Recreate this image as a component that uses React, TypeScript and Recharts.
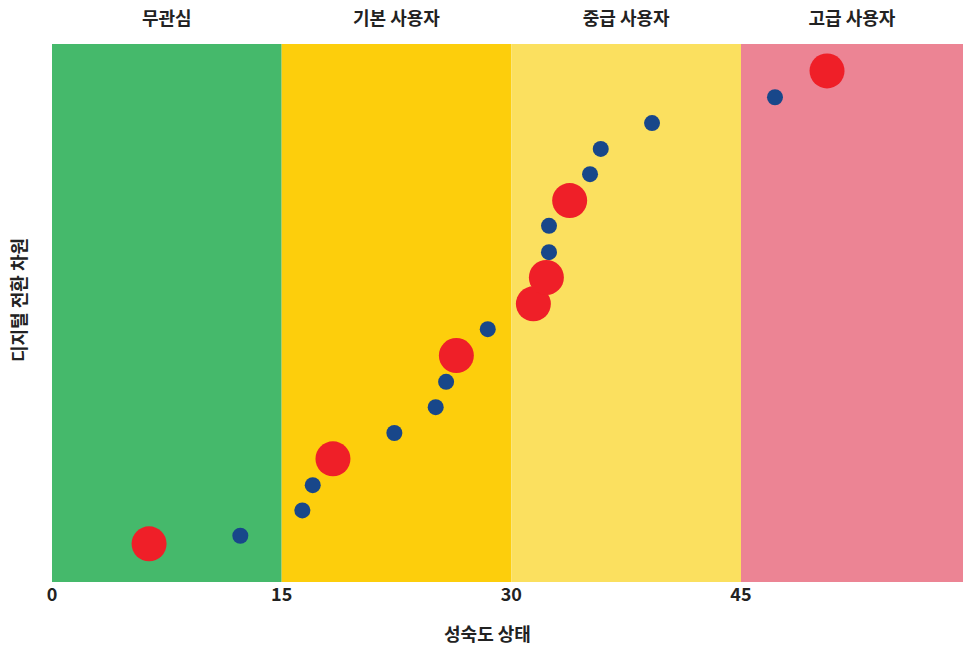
import React from "react";
import {
  ScatterChart,
  Scatter,
  XAxis,
  YAxis,
  ReferenceArea,
  Text,
} from "recharts";

// Zones along the maturity axis
const zoneNames = ["무관심", "기본 사용자", "중급 사용자", "고급 사용자"];
const zoneStarts = [0, 15, 30, 45];
const zoneEnds = [15, 30, 45, 59.5];
const zoneColors = ["#45B96B", "#FDCE0C", "#FBE05F", "#EC8494"];
const xTicks = [0, 15, 30, 45];

// Blue (small) points
const blueX = [12.3, 16.35, 17.03, 22.36, 25.06, 25.74, 28.46, 32.46, 32.46, 35.14, 35.84, 39.19, 47.22];
const blueY = [8.6, 13.3, 18.0, 27.7, 32.5, 37.2, 47.0, 61.3, 66.2, 75.8, 80.5, 85.3, 90.1];

// Red (large) points
const redX = [6.34, 18.35, 26.41, 31.44, 32.29, 33.81, 50.62];
const redY = [7.1, 22.9, 42.1, 51.7, 56.6, 70.9, 95.0];

const blueData = blueX.map((x, i) => ({ x, y: blueY[i] }));
const redData = redX.map((x, i) => ({ x, y: redY[i] }));

const FONT = "'Noto Sans CJK KR', 'Noto Sans', sans-serif";

const dot = (r: number, color: string) => (props: any) => (
  <circle cx={props.cx} cy={props.cy} r={r} fill={color} />
);

const XTitle = (props: any) => {
  const vb = props.viewBox;
  return (
    <Text
      x={vb.x + vb.width / 2 - 20}
      y={641}
      textAnchor="middle"
      fontFamily={FONT}
      fontWeight={700}
      fontSize={18}
      fill="#222"
    >
      성숙도 상태
    </Text>
  );
};

const YTitle = (props: any) => {
  const vb = props.viewBox;
  const cy = vb.y + vb.height / 2 - 13;
  return (
    <text
      x={18}
      y={cy}
      transform={`rotate(-90, 18, ${cy})`}
      textAnchor="middle"
      dominantBaseline="central"
      fontFamily={FONT}
      fontWeight={700}
      fontSize={18}
      fill="#222"
    >
      디지털 전환 차원
    </text>
  );
};

const ZoneLabel = (name: string) => (props: any) => {
  const vb = props.viewBox;
  return (
    <text
      x={vb.x + vb.width / 2}
      y={25}
      textAnchor="middle"
      fontFamily={FONT}
      fontWeight={700}
      fontSize={18}
      fill="#222"
    >
      {name}
    </text>
  );
};

export default function App() {
  return (
    <div style={{ position: "absolute", left: 0, top: 0 }}>
      <ScatterChart
        width={964}
        height={647}
        margin={{ top: 44, right: 1, bottom: 0, left: 0 }}
      >
        <XAxis
          dataKey="x"
          type="number"
          domain={[0, 59.5]}
          ticks={xTicks}
          orientation="bottom"
          height={65}
          axisLine={false}
          tickLine={false}
          tickSize={0}
          tickMargin={6}
          tick={{ fill: "#222", fontSize: 18, fontWeight: 700, fontFamily: FONT }}
          label={<XTitle />}
        />
        <YAxis
          dataKey="y"
          type="number"
          domain={[0, 100]}
          width={52}
          tick={false}
          axisLine={false}
          tickLine={false}
          label={<YTitle />}
        />
        {zoneStarts.map((s, i) => (
          <ReferenceArea
            key={i}
            x1={s}
            x2={zoneEnds[i]}
            fill={zoneColors[i]}
            fillOpacity={1}
            stroke="none"
            label={ZoneLabel(zoneNames[i])}
          />
        ))}
        <Scatter
          data={blueData}
          fill="#18478A"
          shape={dot(8, "#18478A")}
          isAnimationActive={false}
        />
        <Scatter
          data={redData}
          fill="#EF1F28"
          shape={dot(17.5, "#EF1F28")}
          isAnimationActive={false}
        />
      </ScatterChart>
    </div>
  );
}
